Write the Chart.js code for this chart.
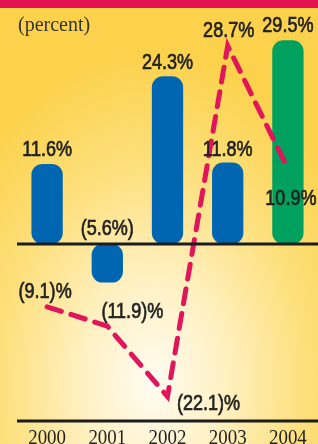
<!DOCTYPE html>
<html>
<head>
<meta charset="utf-8">
<script src="https://cdn.jsdelivr.net/npm/chart.js@4/dist/chart.umd.min.js"></script>
<style>
  html, body { margin: 0; padding: 0; }
  body {
    width: 318px; height: 444px; overflow: hidden; position: relative;
    background: radial-gradient(ellipse 230px 330px at 48% 86%, #fffcf2 0%, #fff1c4 30%, #fde07e 65%, #fcd24c 100%);
  }
  .band { position: absolute; left: 0; top: 0; width: 318px; height: 8px; background: #e2124f; }
  canvas { position: absolute; left: 0; top: 0; }
</style>
</head>
<body>
<div class="band"></div>
<canvas id="chart" width="318" height="444"></canvas>
<script>
// ── data ──
const years = ['2000', '2001', '2002', '2003', '2004'];
const barValues = [11.6, -5.6, 24.3, 11.8, 29.5];
const lineValues = [-9.1, -11.9, -22.1, 28.7, 10.9];
const barLabels = ['11.6%', '(5.6%)', '24.3%', '11.8%', '29.5%'];
const lineLabels = ['(9.1)%', '(11.9)%', '(22.1)%', '28.7%', '10.9%'];

const BLUE = '#0066b2';
const GREEN = '#00a15f';
const barColors = years.map((y, i) => (i === years.length - 1 ? GREEN : BLUE));

// label offsets relative to the mark (styling only)
const barLabelDy = [-8, 0, -7, -7, -8];
const lineLabelOffset = [[-2, -9], [25, -8], [41, 14], [1, -9], [3, 36]];

// canvas has no condensed face, so squeeze it (and optionally thicken strokes)
function condensedText(ctx, text, x, y, sx, thick) {
  ctx.save();
  ctx.translate(x, y);
  ctx.scale(sx, 1);
  ctx.fillText(text, 0, 0);
  if (thick) ctx.strokeText(text, 0, 0);
  ctx.restore();
}

// draws zero line, bottom axis, year labels and value labels
const decorPlugin = {
  id: 'decor',
  afterDatasetsDraw(chart) {
    const ctx = chart.ctx;
    const area = chart.chartArea;
    const x = chart.scales.x;
    const y = chart.scales.y;
    const zeroY = y.getPixelForValue(0);

    ctx.save();
    ctx.strokeStyle = '#1c1c1c';
    ctx.lineWidth = 3;
    ctx.beginPath();
    ctx.moveTo(area.left, zeroY);
    ctx.lineTo(area.right, zeroY);
    ctx.moveTo(area.left, area.bottom);
    ctx.lineTo(area.right, area.bottom);
    ctx.stroke();

    ctx.fillStyle = '#222';
    ctx.strokeStyle = '#222';
    ctx.lineWidth = 0.7;
    ctx.textAlign = 'center';
    ctx.textBaseline = 'alphabetic';

    // year labels
    ctx.font = '22px "Liberation Serif"';
    years.forEach((yr, i) => {
      condensedText(ctx, yr, x.getPixelForValue(i), area.bottom + 23, 0.86, false);
    });

    // bar labels
    ctx.font = '22px "Liberation Sans"';
    const barMeta = chart.getDatasetMeta(0);
    barMeta.data.forEach((el, i) => {
      const v = barValues[i];
      const baseY = v >= 0 ? el.y : zeroY - 9;
      condensedText(ctx, barLabels[i], el.x, baseY + barLabelDy[i], 0.82, true);
    });

    // line labels
    const lineMeta = chart.getDatasetMeta(1);
    lineMeta.data.forEach((pt, i) => {
      const [dx, dy] = lineLabelOffset[i];
      condensedText(ctx, lineLabels[i], pt.x + dx, pt.y + dy, 0.82, true);
    });

    // unit label
    ctx.textAlign = 'left';
    ctx.font = '20px "Liberation Serif"';
    ctx.fillStyle = '#333';
    ctx.fillText('(percent)', 18, 31);
    ctx.restore();
  }
};

new Chart(document.getElementById('chart'), {
  data: {
    labels: years,
    datasets: [
      {
        type: 'bar',
        data: barValues,
        backgroundColor: barColors,
        borderRadius: 11,
        borderSkipped: false,
        barPercentage: 0.52,
        categoryPercentage: 1,
        order: 2
      },
      {
        type: 'line',
        data: lineValues,
        borderColor: '#e0155a',
        borderWidth: 5,
        borderDash: [15, 10],
        borderCapStyle: 'round',
        pointRadius: 0,
        tension: 0,
        order: 1
      }
    ]
  },
  options: {
    responsive: false,
    devicePixelRatio: 1,
    animation: false,
    layout: { padding: { left: 17, right: 0, top: 30, bottom: 23 } },
    plugins: { legend: { display: false }, tooltip: { enabled: false } },
    scales: {
      x: { display: false },
      y: { display: false, min: -25.65, max: 31 }
    }
  },
  plugins: [decorPlugin]
});
</script>
</body>
</html>
